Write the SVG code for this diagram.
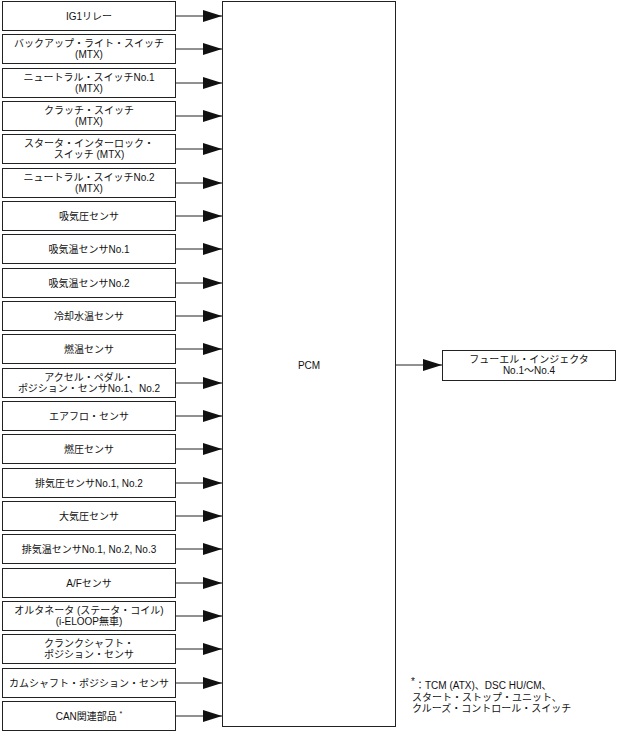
<svg xmlns="http://www.w3.org/2000/svg" width="617" height="732" viewBox="0 0 617 732">
<style>
text{font-family:"Liberation Sans","Noto Sans CJK JP",sans-serif;font-size:10px;fill:#111;text-anchor:middle}
.box{fill:#fff;stroke:#222;stroke-width:1}
.c{stroke:#222;stroke-width:1;fill:none;marker-end:url(#ah)}
.fn{text-anchor:start}
</style>
<defs>
<marker id="ah" markerUnits="userSpaceOnUse" markerWidth="19" markerHeight="12" refX="19" refY="6" orient="auto">
<path d="M0,0 L19,6 L0,12 Z" fill="#111"/>
</marker>
</defs>
<rect width="617" height="732" fill="#fff"/>
<g id="pcm"><rect class="box" x="222.5" y="1.5" width="173" height="725"/><text x="309" y="369">PCM</text></g>
<g id="n0"><rect class="box" x="2.5" y="1.5" width="173" height="29"/><text x="89" y="19.5">IG1リレー</text></g>
<g id="n1"><rect class="box" x="2.5" y="34.5" width="173" height="29"/><text x="89" y="47.3">バックアップ・ライト・スイッチ</text><text x="89" y="58.3">(MTX)</text></g>
<g id="n2"><rect class="box" x="2.5" y="68.5" width="173" height="29"/><text x="89" y="81.3">ニュートラル・スイッチNo.1</text><text x="89" y="92.3">(MTX)</text></g>
<g id="n3"><rect class="box" x="2.5" y="101.5" width="173" height="29"/><text x="89" y="114.3">クラッチ・スイッチ</text><text x="89" y="125.3">(MTX)</text></g>
<g id="n4"><rect class="box" x="2.5" y="134.5" width="173" height="29"/><text x="89" y="147.3">スタータ・インターロック・</text><text x="89" y="158.3">スイッチ (MTX)</text></g>
<g id="n5"><rect class="box" x="2.5" y="168.5" width="173" height="29"/><text x="89" y="181.3">ニュートラル・スイッチNo.2</text><text x="89" y="192.3">(MTX)</text></g>
<g id="n6"><rect class="box" x="2.5" y="201.5" width="173" height="29"/><text x="89" y="219.5">吸気圧センサ</text></g>
<g id="n7"><rect class="box" x="2.5" y="234.5" width="173" height="29"/><text x="89" y="252.5">吸気温センサNo.1</text></g>
<g id="n8"><rect class="box" x="2.5" y="268.5" width="173" height="29"/><text x="89" y="286.5">吸気温センサNo.2</text></g>
<g id="n9"><rect class="box" x="2.5" y="301.5" width="173" height="29"/><text x="89" y="319.5">冷却水温センサ</text></g>
<g id="n10"><rect class="box" x="2.5" y="334.5" width="173" height="29"/><text x="89" y="352.5">燃温センサ</text></g>
<g id="n11"><rect class="box" x="2.5" y="368.5" width="173" height="29"/><text x="89" y="381.3">アクセル・ペダル・</text><text x="89" y="392.3">ポジション・センサNo.1、No.2</text></g>
<g id="n12"><rect class="box" x="2.5" y="401.5" width="173" height="29"/><text x="89" y="419.5">エアフロ・センサ</text></g>
<g id="n13"><rect class="box" x="2.5" y="434.5" width="173" height="29"/><text x="89" y="452.5">燃圧センサ</text></g>
<g id="n14"><rect class="box" x="2.5" y="468.5" width="173" height="29"/><text x="89" y="486.5">排気圧センサNo.1, No.2</text></g>
<g id="n15"><rect class="box" x="2.5" y="501.5" width="173" height="29"/><text x="89" y="519.5">大気圧センサ</text></g>
<g id="n16"><rect class="box" x="2.5" y="534.5" width="173" height="29"/><text x="89" y="552.5">排気温センサNo.1, No.2, No.3</text></g>
<g id="n17"><rect class="box" x="2.5" y="568.5" width="173" height="29"/><text x="89" y="586.5">A/Fセンサ</text></g>
<g id="n18"><rect class="box" x="2.5" y="601.5" width="173" height="29"/><text x="89" y="614.3">オルタネータ (ステータ・コイル)</text><text x="89" y="625.3">(i-ELOOP無車)</text></g>
<g id="n19"><rect class="box" x="2.5" y="634.5" width="173" height="29"/><text x="89" y="647.3">クランクシャフト・</text><text x="89" y="658.3">ポジション・センサ</text></g>
<g id="n20"><rect class="box" x="2.5" y="668.5" width="173" height="29"/><text x="89" y="686.5">カムシャフト・ポジション・センサ</text></g>
<g id="n21"><rect class="box" x="2.5" y="701.5" width="173" height="29"/><text x="89" y="719.5">CAN関連部品 <tspan font-size="7" dy="-4">*</tspan></text></g>
<g id="out"><rect class="box" x="442.5" y="350.5" width="173" height="30"/><text x="529" y="363">フューエル・インジェクタ</text><text x="529" y="374">No.1〜No.4</text></g>
<g id="note">
<text class="fn" x="411" y="685" font-size="7">*</text>
<text class="fn" x="415" y="689">：TCM (ATX)、DSC HU/CM、</text>
<text class="fn" x="412" y="700.5">スタート・ストップ・ユニット、</text>
<text class="fn" x="412" y="712">クルーズ・コントロール・スイッチ</text>
</g>
<g id="connectors">
<path class="c" d="M176,16H222"/>
<path class="c" d="M176,49H222"/>
<path class="c" d="M176,83H222"/>
<path class="c" d="M176,116H222"/>
<path class="c" d="M176,149H222"/>
<path class="c" d="M176,183H222"/>
<path class="c" d="M176,216H222"/>
<path class="c" d="M176,249H222"/>
<path class="c" d="M176,283H222"/>
<path class="c" d="M176,316H222"/>
<path class="c" d="M176,349H222"/>
<path class="c" d="M176,383H222"/>
<path class="c" d="M176,416H222"/>
<path class="c" d="M176,449H222"/>
<path class="c" d="M176,483H222"/>
<path class="c" d="M176,516H222"/>
<path class="c" d="M176,549H222"/>
<path class="c" d="M176,583H222"/>
<path class="c" d="M176,616H222"/>
<path class="c" d="M176,649H222"/>
<path class="c" d="M176,683H222"/>
<path class="c" d="M176,716H222"/>
<path class="c" d="M396,365H442"/>
</g>
</svg>
